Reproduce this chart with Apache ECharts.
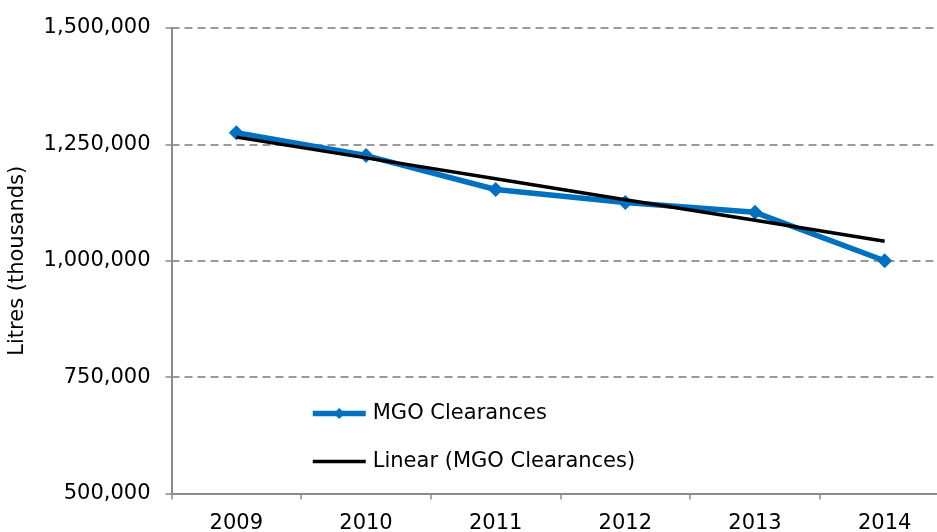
<!DOCTYPE html>
<html>
<head>
<meta charset="utf-8">
<script src="https://cdn.jsdelivr.net/npm/echarts@6/dist/echarts.min.js"></script>
<style>
  html, body { margin: 0; padding: 0; background: #fff; }
  #chart { width: 937px; height: 532px; }
</style>
</head>
<body>
<div id="chart"></div>
<script>
// data
const years = ["2009", "2010", "2011", "2012", "2013", "2014"];
const clearances = [1275000, 1226000, 1153000, 1125000, 1104000, 1000000];
const linearTrend = [1265600, 1221000, 1176000, 1131000, 1087000, 1042000];
const yTicks = [500000, 750000, 1000000, 1250000, 1500000];

const font = "DejaVu Sans, Verdana, sans-serif";
const chart = echarts.init(document.getElementById("chart"));

chart.setOption({
  animation: false,
  textStyle: { fontFamily: font },
  grid: { left: 171.5, right: -12.5, top: 28, bottom: 38.5, outerBoundsMode: "none", containLabel: false },
  legend: {
    orient: "vertical",
    left: 310,
    top: 403,
    padding: 0,
    itemGap: 27,
    itemWidth: 53,
    itemHeight: 14,
    lineStyle: { width: "inherit" },
    textStyle: { fontFamily: font, fontSize: 21, color: "#000000", padding: [0, 0, 0, 2] },
    data: [
      { name: "MGO Clearances" },
      // plain black bar for the trend line, no marker
      { name: "Linear (MGO Clearances)", icon: "path://M0,0 L53,0 L53,3.5 L0,3.5 Z" }
    ]
  },
  xAxis: {
    type: "category",
    data: years,
    boundaryGap: true,
    axisLine: { lineStyle: { color: "#8c8c8c", width: 2 } },
    axisTick: { show: true, length: 6, interval: 0, lineStyle: { color: "#8c8c8c", width: 1.5 } },
    axisLabel: { fontSize: 21, color: "#000000", margin: 20, fontFamily: font },
    splitLine: { show: false }
  },
  yAxis: {
    type: "value",
    min: yTicks[0],
    max: yTicks[yTicks.length - 1],
    interval: 250000,
    name: "Litres (thousands)",
    nameLocation: "middle",
    nameRotate: 90,
    nameGap: 143,
    nameTextStyle: { fontSize: 21, color: "#000000", fontFamily: font },
    axisLine: { show: true, lineStyle: { color: "#8c8c8c", width: 2 } },
    axisTick: { show: true, length: 6, lineStyle: { color: "#8c8c8c", width: 1.5 } },
    axisLabel: {
      fontSize: 21,
      color: "#000000",
      margin: 21,
      fontFamily: font,
      formatter: v => v.toLocaleString("en-US")
    },
    splitLine: { show: true, lineStyle: { color: "#999999", width: 2, type: [8, 5] } }
  },
  series: [
    {
      name: "MGO Clearances",
      type: "line",
      data: clearances,
      symbol: "diamond",
      symbolSize: 15,
      lineStyle: { color: "#0070C0", width: 5.5 },
      itemStyle: { color: "#0070C0" },
      z: 2
    },
    {
      name: "Linear (MGO Clearances)",
      type: "line",
      data: linearTrend,
      symbol: "none",
      lineStyle: { color: "#000000", width: 3.5 },
      itemStyle: { color: "#000000" },
      z: 3
    }
  ]
});
</script>
</body>
</html>
